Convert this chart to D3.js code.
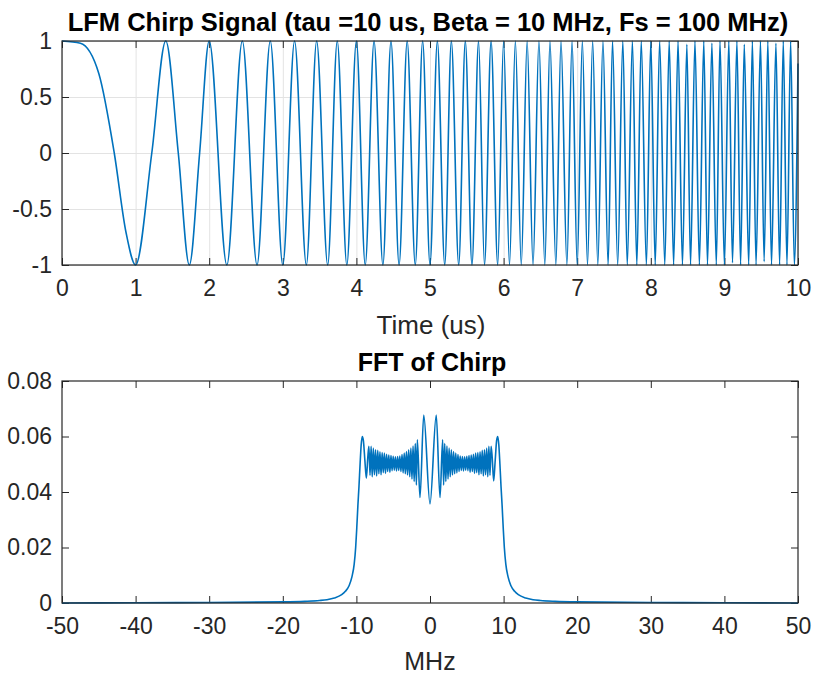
<!doctype HTML>
<html>
<head>
    <style>
        body { margin: 0; background: #fff; }
        text { font-family: "Liberation Sans", Arial, sans-serif; fill: #262626; }
        .tick text { font-size: 23px; }
        .grid line { stroke: #e3e3e3; }
        .grid path { display: none; }
    </style>
    <script src="https://d3js.org/d3.v7.min.js"></script>
</head>
<body>
<div id="chart"></div>
<script>

    // chirp: turning points (and a few zero crossings for the first slow cycles)
    var chirpPoints = [
        [0, 1], [0.25, 0.98], [0.5, 0.71], [0.71, 0], [0.87, -0.71], [1, -1],
        [1.22, 0], [1.41, 1], [1.58, 0], [1.73, -1], [1.87, 0], [2, 1],
        [2.24, -1], [2.45, 1], [2.65, -1], [2.83, 1], [3, -1], [3.16, 1], [3.32, -1], [3.46, 1],
        [3.61, -1], [3.74, 1], [3.87, -1], [4, 1], [4.12, -1], [4.24, 1], [4.36, -1], [4.47, 1],
        [4.58, -1], [4.69, 1], [4.80, -1], [4.90, 1], [5, -1], [5.10, 1], [5.20, -1], [5.29, 1],
        [5.39, -1], [5.48, 1], [5.57, -1], [5.66, 1], [5.74, -1], [5.83, 1], [5.92, -1], [6, 1],
        [6.08, -1], [6.16, 1], [6.24, -1], [6.32, 1], [6.40, -1], [6.48, 1], [6.56, -1], [6.63, 1],
        [6.71, -1], [6.78, 1], [6.86, -1], [6.93, 1], [7, -1], [7.07, 1], [7.14, -1], [7.21, 1],
        [7.28, -1], [7.35, 1], [7.42, -1], [7.48, 1], [7.55, -1], [7.62, 1], [7.68, -1], [7.75, 1],
        [7.81, -1], [7.87, 1], [7.94, -1], [8, 1], [8.06, -1], [8.12, 1], [8.19, -1], [8.25, 1],
        [8.31, -1], [8.37, 1], [8.43, -1], [8.49, 0.97], [8.54, -1], [8.60, 1], [8.66, -1], [8.72, 1],
        [8.77, -1], [8.83, 0.98], [8.89, -1], [8.94, 1], [9, -1], [9.06, 1], [9.11, -0.98], [9.17, 1],
        [9.22, -1], [9.27, 0.97], [9.33, -1], [9.38, 1], [9.43, -1], [9.49, 1], [9.54, -0.97], [9.59, 1],
        [9.64, -1], [9.70, 0.98], [9.75, -1], [9.80, 1], [9.85, -1], [9.90, 1], [9.95, -1], [10, 0.8]
    ];

    // |FFT| of the chirp vs frequency (MHz)
    var fftPoints = [
        [-50, 0], [-40, 0.0001], [-30, 0.0002], [-20, 0.0004], [-17, 0.0006], [-15, 0.0009],
        [-14, 0.0012], [-13, 0.0018], [-12, 0.003], [-11.5, 0.0042], [-11, 0.0062], [-10.6, 0.0095],
        [-10.3, 0.014], [-10.1, 0.02], [-9.95, 0.027], [-9.8, 0.035], [-9.65, 0.042], [-9.5, 0.05],
        [-9.35, 0.057], [-9.2, 0.06], [-9.05, 0.0585], [-8.85, 0.0515], [-8.65, 0.045], [-8.45, 0.0525],
        [-8.3, 0.0565], [-8.15, 0.046], [-8.0, 0.0565], [-7.85, 0.0455], [-7.7, 0.0558], [-7.55, 0.0462],
        [-7.4, 0.0552], [-7.25, 0.0458], [-7.1, 0.055], [-6.95, 0.0466], [-6.8, 0.0545], [-6.65, 0.0462],
        [-6.5, 0.0542], [-6.35, 0.047], [-6.2, 0.054], [-6.05, 0.0467], [-5.9, 0.0536], [-5.75, 0.0474],
        [-5.6, 0.0533], [-5.45, 0.0471], [-5.3, 0.0531], [-5.15, 0.0477], [-5.0, 0.0529], [-4.85, 0.0479],
        [-4.7, 0.0527], [-4.55, 0.0476], [-4.4, 0.0528], [-4.25, 0.0478], [-4.1, 0.053], [-3.95, 0.0474],
        [-3.8, 0.0535], [-3.65, 0.0469], [-3.5, 0.054], [-3.35, 0.0466], [-3.2, 0.0546], [-3.05, 0.0461],
        [-2.9, 0.0552], [-2.75, 0.0455], [-2.6, 0.0558], [-2.45, 0.0447], [-2.3, 0.0566], [-2.15, 0.0438],
        [-2.0, 0.0575], [-1.85, 0.0425], [-1.72, 0.0588], [-1.36, 0.038], [-0.85, 0.0677], [0, 0.0357],
        [0.85, 0.0677], [1.36, 0.038], [1.72, 0.0588], [1.85, 0.0425], [2.0, 0.0575], [2.15, 0.0438],
        [2.3, 0.0566], [2.45, 0.0447], [2.6, 0.0558], [2.75, 0.0455], [2.9, 0.0552], [3.05, 0.0461],
        [3.2, 0.0546], [3.35, 0.0466], [3.5, 0.054], [3.65, 0.0469], [3.8, 0.0535], [3.95, 0.0474],
        [4.1, 0.053], [4.25, 0.0478], [4.4, 0.0528], [4.55, 0.0476], [4.7, 0.0527], [4.85, 0.0479],
        [5.0, 0.0529], [5.15, 0.0477], [5.3, 0.0531], [5.45, 0.0471], [5.6, 0.0533], [5.75, 0.0474],
        [5.9, 0.0536], [6.05, 0.0467], [6.2, 0.054], [6.35, 0.047], [6.5, 0.0542], [6.65, 0.0462],
        [6.8, 0.0545], [6.95, 0.0466], [7.1, 0.055], [7.25, 0.0458], [7.4, 0.0552], [7.55, 0.0462],
        [7.7, 0.0558], [7.85, 0.0455], [8.0, 0.0565], [8.15, 0.046], [8.3, 0.0565], [8.45, 0.0525],
        [8.65, 0.044], [8.85, 0.051], [9.05, 0.0585], [9.2, 0.06], [9.35, 0.057], [9.5, 0.05],
        [9.65, 0.042], [9.8, 0.035], [9.95, 0.027], [10.1, 0.02], [10.3, 0.014], [10.6, 0.0095],
        [11, 0.0062], [11.5, 0.0042], [12, 0.003], [13, 0.0018], [14, 0.0012], [15, 0.0009],
        [17, 0.0006], [20, 0.0004], [30, 0.0002], [40, 0.0001], [50, 0]
    ];

    var timeTicks = [0, 1, 2, 3, 4, 5, 6, 7, 8, 9, 10];
    var ampTicks = [-1, -0.5, 0, 0.5, 1];
    var ampLabels = ["-1", "-0.5", "0", "0.5", "1"];
    var freqTicks = [-50, -40, -30, -20, -10, 0, 10, 20, 30, 40, 50];
    var magTicks = [0, 0.02, 0.04, 0.06, 0.08];
    var magLabels = ["0", "0.02", "0.04", "0.06", "0.08"];

    var canvasWidth = 814;
    var canvasHeight = 677;
    var lineColor = "#0072BD";
    var tickLen = 7;

    var svg = d3.select("#chart").append("svg")
        .attr("width", canvasWidth)
        .attr("height", canvasHeight);

    // draws one MATLAB-style axes box and returns its scales
    function drawAxes(opt) {
        var x = d3.scaleLinear().domain(opt.xDomain).range([opt.left, opt.right]);
        var y = d3.scaleLinear().domain(opt.yDomain).range([opt.bottom, opt.top]);
        var w = opt.right - opt.left;
        var h = opt.bottom - opt.top;

        if (opt.grid) {
            svg.append("g").attr("class", "grid")
                .attr("transform", "translate(0," + opt.bottom + ")")
                .call(d3.axisBottom(x).tickValues(opt.xTicks).tickSize(-h).tickFormat(""));
            svg.append("g").attr("class", "grid")
                .attr("transform", "translate(" + opt.left + ",0)")
                .call(d3.axisLeft(y).tickValues(opt.yTicks).tickSize(-w).tickFormat(""));
        }

        var ax = [];
        ax.push(svg.append("g")
            .attr("transform", "translate(0," + opt.bottom + ")")
            .call(d3.axisBottom(x).tickValues(opt.xTicks).tickSize(-tickLen).tickPadding(15)
                .tickFormat(function(d){return String(d)})));
        ax.push(svg.append("g")
            .attr("transform", "translate(0," + opt.top + ")")
            .call(d3.axisTop(x).tickValues(opt.xTicks).tickSize(-tickLen).tickFormat("")));
        ax.push(svg.append("g")
            .attr("transform", "translate(" + opt.left + ",0)")
            .call(d3.axisLeft(y).tickValues(opt.yTicks).tickSize(-tickLen).tickPadding(10)
                .tickFormat(function(d, i){return opt.yLabels[i]})));
        ax.push(svg.append("g")
            .attr("transform", "translate(" + opt.right + ",0)")
            .call(d3.axisRight(y).tickValues(opt.yTicks).tickSize(-tickLen).tickFormat("")));
        ax.forEach(function(g){
            g.select(".domain").remove();
            g.selectAll(".tick line").attr("stroke", "#262626");
            g.selectAll(".tick text").attr("fill", "#262626");
        });

        return {x: x, y: y, opt: opt};
    }

    function drawBox(a) {
        svg.append("rect")
            .attr("x", a.opt.left)
            .attr("y", a.opt.top)
            .attr("width", a.opt.right - a.opt.left)
            .attr("height", a.opt.bottom - a.opt.top)
            .attr("fill", "none")
            .attr("stroke", "#262626")
            .attr("stroke-width", 1.2);
    }

    // top subplot: the chirp in time
    var chirpAx = drawAxes({
        left: 62, right: 798, top: 41, bottom: 265,
        xDomain: [0, 10], yDomain: [-1, 1],
        xTicks: timeTicks, yTicks: ampTicks, yLabels: ampLabels, grid: true
    });

    svg.append("path")
        .datum(chirpPoints)
        .attr("fill", "none")
        .attr("stroke", lineColor)
        .attr("stroke-width", 1.6)
        .attr("d", d3.line()
            .x(function(d){return chirpAx.x(d[0])})
            .y(function(d){return chirpAx.y(d[1])})
            .curve(d3.curveMonotoneX));
    drawBox(chirpAx);

    svg.append("text")
        .attr("x", 428)
        .attr("y", 31)
        .attr("text-anchor", "middle")
        .attr("font-size", "25.5px")
        .attr("font-weight", "bold")
        .style("fill", "#000")
        .text("LFM Chirp Signal (tau =10 us, Beta = 10 MHz, Fs = 100 MHz)");

    svg.append("text")
        .attr("x", 431)
        .attr("y", 334)
        .attr("text-anchor", "middle")
        .attr("font-size", "26px")
        .text("Time (us)");

    // bottom subplot: magnitude spectrum
    var fftAx = drawAxes({
        left: 62, right: 798, top: 381, bottom: 603,
        xDomain: [-50, 50], yDomain: [0, 0.08],
        xTicks: freqTicks, yTicks: magTicks, yLabels: magLabels, grid: false
    });

    svg.append("path")
        .datum(fftPoints)
        .attr("fill", "none")
        .attr("stroke", lineColor)
        .attr("stroke-width", 1.6)
        .attr("d", d3.line()
            .x(function(d){return fftAx.x(d[0])})
            .y(function(d){return fftAx.y(d[1])})
            .curve(d3.curveMonotoneX));
    drawBox(fftAx);

    svg.append("text")
        .attr("x", 432)
        .attr("y", 371)
        .attr("text-anchor", "middle")
        .attr("font-size", "25px")
        .attr("font-weight", "bold")
        .style("fill", "#000")
        .text("FFT of Chirp");

    svg.append("text")
        .attr("x", 430)
        .attr("y", 670)
        .attr("text-anchor", "middle")
        .attr("font-size", "25px")
        .text("MHz");

</script>
</body>
</html>
